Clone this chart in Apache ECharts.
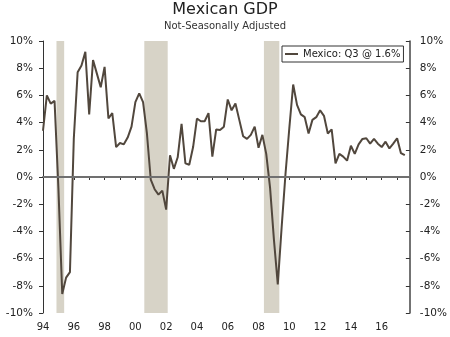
<!DOCTYPE html>
<html>
<head>
<meta charset="utf-8">
<script src="https://cdn.jsdelivr.net/npm/echarts@6/dist/echarts.min.js"></script>
<style>
  html, body { margin: 0; padding: 0; background: #fff; }
  #chart { width: 450px; height: 337px; }
</style>
</head>
<body>
<div id="chart"></div>
<script>
// Quarterly year-over-year growth, not seasonally adjusted, 1994Q1 .. 2017Q3
var startYear = 1994;
var gdp = [
  3.4, 6.0, 5.4, 5.6,        // 1994
  -0.8, -8.6, -7.4, -7.0,    // 1995
  2.8, 7.7, 8.2, 9.2,        // 1996
  4.6, 8.6, 7.6, 6.6,        // 1997
  8.1, 4.3, 4.7, 2.2,        // 1998
  2.5, 2.4, 2.9, 3.7,        // 1999
  5.5, 6.15, 5.5, 3.2,       // 2000
  -0.2, -0.9, -1.3, -1.0,    // 2001
  -2.4, 1.6, 0.6, 1.45,      // 2002
  3.9, 1.0, 0.9, 2.2,        // 2003
  4.3, 4.1, 4.1, 4.7,        // 2004
  1.5, 3.5, 3.45, 3.7,       // 2005
  5.7, 4.9, 5.4, 4.2,        // 2006
  3.0, 2.8, 3.1, 3.7,        // 2007
  2.15, 3.1, 1.7, -0.8,      // 2008
  -4.6, -7.9, -3.7, 0.2,     // 2009
  3.6, 6.8, 5.3, 4.6,        // 2010
  4.4, 3.2, 4.2, 4.4,        // 2011
  4.9, 4.5, 3.2, 3.5,        // 2012
  1.0, 1.7, 1.5, 1.2,        // 2013
  2.3, 1.7, 2.4, 2.8,        // 2014
  2.85, 2.45, 2.8, 2.45,     // 2015
  2.2, 2.6, 2.1, 2.45,       // 2016
  2.85, 1.75, 1.6            // 2017
];
// Recession shading (start, end) in fractional years
var recessionStart = [1994.875, 2000.58, 2008.35];
var recessionEnd   = [1995.375, 2002.10, 2009.35];
var seriesName = 'Mexico: Q3 @ 1.6%';

var lineData = gdp.map(function (v, i) { return [startYear + i / 4, v]; });
var areas = recessionStart.map(function (s, i) {
  return [{ xAxis: s }, { xAxis: recessionEnd[i] }];
});

var chart = echarts.init(document.getElementById('chart'), null, { renderer: 'canvas' });
var font = 'DejaVu Sans';
var xMin = 1994, xMax = 2017.83;

chart.setOption({
  animation: false,
  backgroundColor: '#ffffff',
  title: {
    text: 'Mexican GDP',
    subtext: 'Not-Seasonally Adjusted',
    left: 'center',
    top: 2,
    padding: 0,
    itemGap: 3,
    textStyle: { fontFamily: font, fontSize: 16, fontWeight: 'normal', color: '#222' },
    subtextStyle: { fontFamily: font, fontSize: 10, color: '#333' }
  },
  legend: {
    data: [seriesName],
    left: 282,
    top: 46,
    orient: 'horizontal',
    padding: [3, 3, 3, 3],
    itemWidth: 13,
    itemHeight: 2,
    icon: 'rect',
    borderColor: '#333',
    borderWidth: 1,
    backgroundColor: '#fff',
    textStyle: { fontFamily: font, fontSize: 10, color: '#222' }
  },
  grid: { left: 43, right: 40, top: 41, bottom: 24, containLabel: false },
  xAxis: [
    {
      type: 'value',
      position: 'bottom',
      min: xMin, max: xMax, interval: 1,
      axisLine: { show: true, lineStyle: { color: '#333', width: 1 } },
      axisTick: { show: true, inside: false, length: 3, lineStyle: { color: '#333' } },
      splitLine: { show: false },
      axisLabel: {
        margin: 9,
        fontFamily: font, fontSize: 10, color: '#222',
        showMaxLabel: false,
        formatter: function (v) {
          var r = Math.round(v);
          if (Math.abs(v - r) > 1e-6 || r % 2 !== 0) return '';
          return String(r).slice(2);
        }
      }
    },
    {
      type: 'value',
      position: 'top',
      min: xMin, max: xMax, interval: 1,
      axisLine: { show: true, lineStyle: { color: '#7a7a7a', width: 2 } },
      axisTick: { show: false },
      axisLabel: { show: false },
      splitLine: { show: false }
    }
  ],
  yAxis: [
    {
      type: 'value',
      position: 'left',
      min: -10, max: 10, interval: 2,
      axisLine: { show: true, lineStyle: { color: '#333', width: 1 } },
      axisTick: { show: true, inside: false, length: 4, lineStyle: { color: '#333' } },
      splitLine: { show: false },
      axisLabel: { margin: 10, fontFamily: font, fontSize: 10.5, color: '#222', formatter: '{value}%' }
    },
    {
      type: 'value',
      position: 'right',
      min: -10, max: 10, interval: 2,
      axisLine: { show: true, lineStyle: { color: '#444', width: 1.5 } },
      axisTick: { show: true, inside: true, length: 4, lineStyle: { color: '#333' } },
      splitLine: { show: false },
      axisLabel: { margin: 10, fontFamily: font, fontSize: 10.5, color: '#222', formatter: '{value}%' }
    }
  ],
  series: [
    {
      name: 'bands',
      type: 'line',
      data: [],
      z: 1,
      silent: true,
      markArea: {
        silent: true,
        itemStyle: { color: '#d7d3c7' },
        data: areas
      },
      markLine: {
        silent: true,
        symbol: 'none',
        label: { show: false },
        lineStyle: { color: '#707070', width: 2, type: 'solid' },
        data: [{ yAxis: 0 }]
      }
    },
    {
      name: seriesName,
      type: 'line',
      data: lineData,
      z: 3,
      showSymbol: false,
      symbol: 'none',
      lineStyle: { color: '#51473d', width: 2 },
      itemStyle: { color: '#51473d' }
    }
  ]
});
</script>
</body>
</html>
